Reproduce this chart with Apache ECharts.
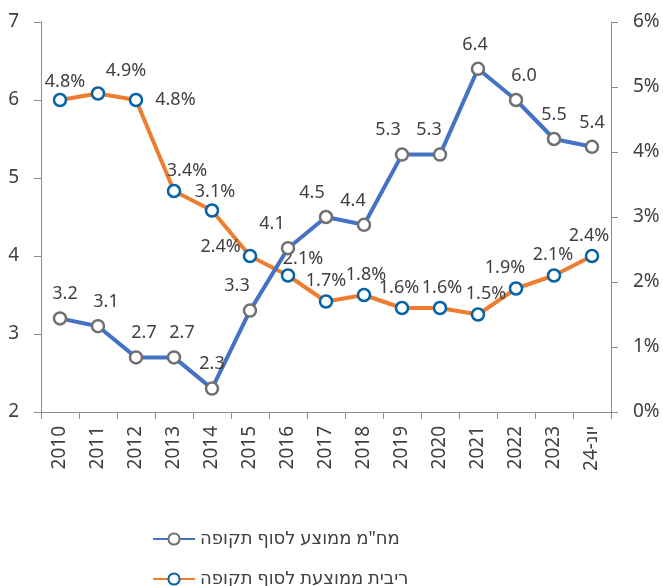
<!DOCTYPE html>
<html>
<head>
<meta charset="utf-8">
<script src="https://cdn.jsdelivr.net/npm/echarts@6/dist/echarts.min.js"></script>
<style>
  html, body { margin: 0; padding: 0; background: #fff; }
  #chart { width: 663px; height: 586px; }
</style>
</head>
<body>
<div id="chart"></div>
<script>
const years = ['2010', '2011', '2012', '2013', '2014', '2015', '2016', '2017',
  '2018', '2019', '2020', '2021', '2022', '2023', 'יונ-24'];
const durationName = 'מח"מ ממוצע לסוף תקופה';
const durationVals = [3.2, 3.1, 2.7, 2.7, 2.3, 3.3, 4.1, 4.5, 4.4, 5.3, 5.3, 6.4, 6.0, 5.5, 5.4];
const rateName = 'ריבית ממוצעת לסוף תקופה';
const rateVals = [4.8, 4.9, 4.8, 3.4, 3.1, 2.4, 2.1, 1.7, 1.8, 1.6, 1.6, 1.5, 1.9, 2.1, 2.4];
const leftTicks = [2, 7, 1];
const rightTicks = [0, 6, 1];

// label nudges so they sit where the original puts them
const durOffset = [[5, 0], [8, 0], [8, 0], [8, 0], [0, 0], [-13, 0], [-16, 0], [-14, 0],
  [-11, 0], [-14, 0], [-11, 0], [-3, 0], [8, 0], [0, 0], [0, 0]];
const rateOffset = [[5, 4], [28, 0], null, [13, 2], [3, 4], null, [15, 6], [0, 2],
  [2, 2], [-3, 2], [2, 2], [8, 2], [-11, 2], [-1, 2], [-3, 2]];

const txt = '#404040';
const axisGray = '#8c8c8c';
const font = '"Noto Sans", "DejaVu Sans", sans-serif';

const chart = echarts.init(document.getElementById('chart'));

const durData = durationVals.map((v, i) => ({
  value: v,
  label: { offset: durOffset[i] }
}));
const rateData = rateVals.map((v, i) => {
  if (i === 2) return { value: v, label: { position: 'right', distance: 12, offset: [0, 0] } };
  if (i === 5) return { value: v, label: { position: 'left', distance: 2, offset: [0, -9] } };
  return { value: v, label: { offset: rateOffset[i] } };
});

const legendBase = {
  orient: 'vertical',
  left: 147,
  itemWidth: 42,
  itemHeight: 14,
  textStyle: { fontSize: 18, color: txt, fontFamily: font }
};

chart.setOption({
  animation: false,
  textStyle: { fontFamily: font },
  grid: { left: 41, right: 52, top: 22, bottom: 174 },
  legend: [
    Object.assign({}, legendBase, { top: 525, data: [durationName] }),
    Object.assign({}, legendBase, { top: 565, data: [rateName] })
  ],
  xAxis: {
    type: 'category',
    data: years,
    axisLine: { lineStyle: { color: axisGray, width: 1 } },
    axisTick: { show: true, length: 7, lineStyle: { color: axisGray } },
    axisLabel: { rotate: 90, fontSize: 19, color: txt, margin: 14, interval: 0 }
  },
  yAxis: [{
    type: 'value',
    min: leftTicks[0], max: leftTicks[1], interval: leftTicks[2],
    axisLine: { show: true, lineStyle: { color: axisGray } },
    axisTick: { show: true, length: 7, lineStyle: { color: axisGray } },
    splitLine: { show: false },
    axisLabel: { fontSize: 19, color: txt, margin: 22 }
  }, {
    type: 'value',
    position: 'right',
    min: rightTicks[0], max: rightTicks[1], interval: rightTicks[2],
    axisLine: { show: true, lineStyle: { color: axisGray } },
    axisTick: { show: true, length: 7, lineStyle: { color: axisGray } },
    splitLine: { show: false },
    axisLabel: { fontSize: 19, color: txt, margin: 22, formatter: v => v + '%' }
  }],
  series: [{
    name: durationName,
    type: 'line',
    yAxisIndex: 0,
    data: durData,
    symbol: 'circle',
    symbolSize: 12,
    lineStyle: { color: '#4472C4', width: 4 },
    itemStyle: { color: '#ffffff', borderColor: '#707070', borderWidth: 2.5 },
    label: {
      show: true, position: 'top', distance: 8, fontSize: 18, color: txt,
      formatter: p => p.value.toFixed(1)
    },
    z: 3
  }, {
    name: rateName,
    type: 'line',
    yAxisIndex: 1,
    data: rateData,
    symbol: 'circle',
    symbolSize: 12,
    lineStyle: { color: '#ED7D31', width: 4 },
    itemStyle: { color: '#ffffff', borderColor: '#0563A6', borderWidth: 2.5 },
    label: {
      show: true, position: 'top', distance: 6, fontSize: 18, color: txt,
      formatter: p => p.value.toFixed(1) + '%'
    },
    z: 2
  }]
});

window.addEventListener('resize', () => chart.resize());
</script>
</body>
</html>
